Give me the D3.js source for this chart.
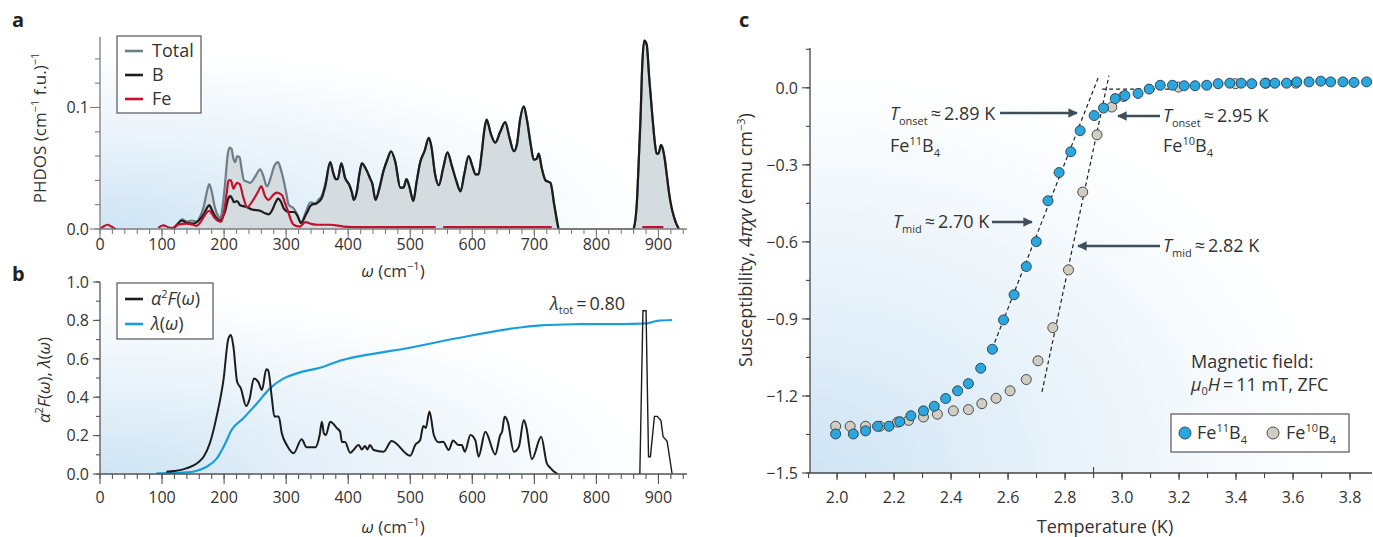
<!DOCTYPE html>
<html><head><meta charset="utf-8">
<script src="https://cdn.jsdelivr.net/npm/d3@7"></script>
<style>body{margin:0;background:#fff}svg{font-family:'Open Sans',sans-serif}</style>
</head><body>
<svg width="1373" height="537"></svg>
<script>
// ---------- DATA ----------
const phdosTotal = [[118,0],[125,0.004],[132,0.008],[140,0.006],[148,0.007],[156,0.006],[162,0.011],[167,0.018],[172,0.030],[176,0.037],[180,0.031],[185,0.018],[190,0.011],[194,0.009],[198,0.02],[202,0.040],[206,0.062],[209,0.067],[212,0.066],[215,0.058],[218,0.055],[221,0.060],[225,0.059],[228,0.050],[232,0.040],[237,0.039],[242,0.038],[250,0.043],[258,0.049],[263,0.044],[269,0.035],[275,0.042],[281,0.052],[287,0.055],[292,0.048],[296,0.040],[300,0.030],[304,0.020],[312,0.017],[317,0.013],[324,0.005],[331,0.013],[339,0.022],[347,0.021],[352,0.024],[357,0.027],[363,0.037],[371,0.055],[376,0.046],[380,0.041],[383,0.041],[389,0.054],[395,0.042],[402,0.036],[406,0.030],[409,0.024],[414,0.031],[418,0.045],[422,0.054],[428,0.050],[435,0.042],[439,0.037],[444,0.024],[450,0.033],[457,0.048],[463,0.057],[469,0.064],[476,0.055],[484,0.034],[489,0.034],[494,0.041],[499,0.034],[505,0.023],[510,0.038],[516,0.055],[523,0.064],[530,0.075],[534,0.068],[540,0.045],[546,0.036],[553,0.050],[560,0.063],[567,0.052],[574,0.040],[581,0.031],[587,0.045],[594,0.060],[600,0.052],[605,0.045],[610,0.045],[615,0.062],[619,0.080],[623,0.090],[630,0.078],[637,0.071],[645,0.080],[653,0.088],[660,0.075],[667,0.064],[672,0.070],[677,0.090],[683,0.101],[688,0.090],[694,0.070],[699,0.057],[704,0.058],[707,0.062],[712,0.050],[718,0.040],[722,0.039],[726,0.038],[732,0.020],[739,0],[800,0],[860,0],[865,0.02],[868,0.053],[871,0.09],[874,0.136],[877,0.155],[881,0.152],[885,0.125],[890,0.094],[894,0.072],[897,0.062],[900,0.062],[904,0.069],[907,0.066],[910,0.058],[914,0.042],[917,0.030],[921,0.018],[925,0.010],[929,0.004],[933,0]];
const phdosB = [[118,0],[125,0.004],[132,0.007],[140,0.005],[151,0.0045],[159,0.007],[167,0.012],[172,0.017],[176,0.0197],[180,0.016],[185,0.011],[194,0.007],[198,0.010],[202,0.015],[206,0.024],[210,0.027],[213,0.025],[216,0.022],[221,0.023],[226,0.0195],[237,0.018],[245,0.016],[258,0.015],[266,0.013],[272,0.012],[278,0.016],[283,0.022],[287,0.025],[292,0.022],[296,0.017],[304,0.014],[313,0.014],[318,0.011],[324,0.005],[333,0.013],[341,0.020],[349,0.021],[357,0.025],[363,0.035],[371,0.055],[376,0.046],[380,0.041],[383,0.041],[389,0.054],[395,0.042],[402,0.036],[406,0.030],[409,0.024],[414,0.031],[418,0.045],[422,0.054],[428,0.050],[435,0.042],[439,0.037],[444,0.024],[450,0.033],[457,0.048],[463,0.057],[469,0.064],[476,0.055],[484,0.034],[489,0.034],[494,0.041],[499,0.034],[505,0.023],[510,0.038],[516,0.055],[523,0.064],[530,0.075],[534,0.068],[540,0.045],[546,0.036],[553,0.050],[560,0.063],[567,0.052],[574,0.040],[581,0.031],[587,0.045],[594,0.060],[600,0.052],[605,0.045],[610,0.045],[615,0.062],[619,0.080],[623,0.090],[630,0.078],[637,0.071],[645,0.080],[653,0.088],[660,0.075],[667,0.064],[672,0.070],[677,0.090],[683,0.101],[688,0.090],[694,0.070],[699,0.057],[704,0.058],[707,0.062],[712,0.050],[718,0.040],[722,0.039],[726,0.038],[732,0.020],[739,0],[800,null],[860,0],[865,0.02],[868,0.053],[871,0.09],[874,0.136],[877,0.155],[881,0.152],[885,0.125],[890,0.094],[894,0.072],[897,0.062],[900,0.062],[904,0.069],[907,0.066],[910,0.058],[914,0.042],[917,0.030],[921,0.018],[925,0.010],[929,0.004],[933,0]];
const phdosFe = [[0,0],[5,0.0018],[12,0.0035],[19,0.0018],[25,0],[40,null],[94,0.001],[102,0.003],[110,0.0015],[115,0.0008],[126,0.0035],[140,0.0045],[150,0.0035],[156,0.0025],[161,0.005],[166,0.009],[171,0.013],[176,0.015],[181,0.012],[185,0.009],[195,0.006],[199,0.012],[202,0.021],[205,0.033],[207,0.040],[211,0.040],[215,0.033],[218,0.036],[221,0.038],[225,0.037],[231,0.026],[237,0.018],[247,0.024],[254,0.030],[260,0.035],[266,0.027],[272,0.024],[279,0.028],[285,0.030],[293,0.028],[299,0.020],[304,0.013],[308,0.007],[312,0.0035],[322,0.002],[331,0.0057],[340,0.0042],[350,0.0035],[371,0.0035],[393,0.002],[420,0.0015],[541,0.0015],[547,null],[553,0.0015],[728,0.0015],[800,null],[874,0.0015],[908,0.0015]];

const a2F = [[107,0.012],[120,0.016],[134,0.024],[150,0.043],[160,0.065],[167,0.09],[177,0.16],[188,0.30],[199,0.49],[207,0.707],[211,0.724],[215,0.663],[221,0.48],[227,0.446],[235.5,0.354],[241,0.39],[248,0.498],[255,0.48],[261,0.4375],[268,0.545],[271,0.54],[277,0.394],[281,0.30],[288,0.30],[293,0.212],[301,0.151],[312,0.108],[325,0.181],[333,0.139],[347,0.139],[354,0.203],[357.5,0.272],[361,0.21],[364,0.203],[371,0.272],[382,0.238],[387,0.22],[390,0.167],[395,0.167],[403,0.111],[417,0.151],[422,0.128],[427,0.146],[431,0.128],[435,0.151],[441,0.125],[457,0.116],[470,0.172],[500,0.095],[508,0.151],[516,0.177],[521,0.25],[525,0.24],[531,0.325],[538,0.203],[546,0.165],[553,0.168],[562,0.125],[569,0.174],[578,0.151],[583,0.151],[588,0.116],[597,0.203],[605,0.174],[610,0.09],[621,0.22],[637,0.102],[645,0.203],[648,0.22],[652,0.298],[657,0.273],[667,0.116],[675,0.142],[683,0.281],[687,0.245],[696,0.077],[711,0.194],[720,0.056],[726,0.031],[735,0.005],[738,0]];
const a2FHigh = [[870,0],[875,0.85],[880,0.85],[884,0.09],[887,0.09],[893.5,0.30],[898,0.30],[904,0.278],[907.5,0.194],[914,0.17],[922,0]];
const lambdaW = [[91,0.003],[134,0.007],[156,0.017],[172,0.038],[188,0.08],[202,0.16],[212,0.229],[231,0.29],[253,0.368],[274,0.446],[296,0.498],[317,0.524],[360,0.559],[382,0.585],[414,0.611],[452,0.632],[495,0.655],[575,0.707],[667,0.759],[710,0.774],[763,0.78],[828,0.781],[882,0.785],[898,0.798],[922,0.802]];

const fe11B4 = [[1.995,-1.348],[2.057,-1.348],[2.10,-1.336],[2.142,-1.318],[2.182,-1.318],[2.22,-1.30],[2.259,-1.277],[2.303,-1.258],[2.341,-1.24],[2.381,-1.21],[2.423,-1.18],[2.461,-1.152],[2.504,-1.092],[2.545,-1.018],[2.584,-0.904],[2.621,-0.806],[2.664,-0.696],[2.699,-0.599],[2.74,-0.44],[2.779,-0.33],[2.82,-0.249],[2.853,-0.167],[2.902,-0.108],[2.935,-0.079],[2.976,-0.042],[3.01,-0.03],[3.056,-0.022],[3.095,-0.005],[3.134,0.01],[3.177,0.01],[3.218,0.008],[3.256,0.008],[3.297,0.01],[3.337,0.016],[3.378,0.018],[3.418,0.018],[3.455,0.016],[3.502,0.018],[3.536,0.018],[3.577,0.018],[3.613,0.023],[3.656,0.023],[3.697,0.026],[3.732,0.023],[3.775,0.023],[3.814,0.021],[3.858,0.023]];
const fe10B4 = [[1.995,-1.318],[2.046,-1.318],[2.10,-1.318],[2.15,-1.318],[2.212,-1.302],[2.251,-1.295],[2.303,-1.282],[2.352,-1.271],[2.408,-1.258],[2.461,-1.253],[2.508,-1.23],[2.558,-1.209],[2.607,-1.18],[2.664,-1.136],[2.705,-1.063],[2.757,-0.934],[2.812,-0.709],[2.862,-0.406],[2.912,-0.183],[2.964,-0.075],[3.005,-0.034],[3.198,0.003],[3.398,0.016],[3.505,0.018],[3.61,0.018]];
const fitFe11 = [[2.544,-1.017],[2.919,0.047]];
const fitFe10 = [[2.719,-1.184],[2.954,0.047]];
const fitBase = [[2.93,-0.005],[3.22,-0.005]];

const wTickLabels = [0,100,200,300,400,500,600,700,800,900];
const phdosTickLabels = [0,0.1];
const a2FTickLabels = [0,0.2,0.4,0.6,0.8,1.0];
const tTickLabels = [2.0,2.2,2.4,2.6,2.8,3.0,3.2,3.4,3.6,3.8];
const chiTickLabels = [0,-0.3,-0.6,-0.9,-1.2,-1.5];

// ---------- SCALES ----------
const svg = d3.select('svg');
const xA = d3.scaleLinear([0,946],[100,687]);
const yA = d3.scaleLinear([0,0.158],[229,37]);
const xB = d3.scaleLinear([0,946],[100,687]);
const yB = d3.scaleLinear([0,1],[474,282]);
const xC = d3.scaleLinear([1.905,3.877],[810,1372]);
const yC = d3.scaleLinear([-1.5,0.155],[473,48]);

const defs = svg.append('defs');
function grad(id){
  const g = defs.append('radialGradient').attr('id',id).attr('cx',0).attr('cy',1).attr('fx',0).attr('fy',1).attr('r',1.05);
  g.append('stop').attr('offset',0).attr('stop-color','#cfe4f4');
  g.append('stop').attr('offset',0.45).attr('stop-color','#e9f3fa');
  g.append('stop').attr('offset',0.9).attr('stop-color','#ffffff');
}
grad('gA'); grad('gB'); grad('gC');
function bg(x,y,id){
  svg.append('rect').attr('x',x.range()[0]).attr('y',y.range()[1]).attr('width',x.range()[1]-x.range()[0]).attr('height',y.range()[0]-y.range()[1]).attr('fill',`url(#${id})`);
}
bg(xA,yA,'gA'); bg(xB,yB,'gB'); bg(xC,yC,'gC');

const TXT = '#333';
function xAxis(x,y0,minor,major,minLen,majLen,fmt,labY,col,fs){
  const g = svg.append('g');
  g.append('line').attr('x1',x.range()[0]).attr('x2',x.range()[1]).attr('y1',y0).attr('y2',y0).attr('stroke',col).attr('stroke-width',1.3);
  minor.forEach(v=>g.append('line').attr('x1',x(v)).attr('x2',x(v)).attr('y1',y0).attr('y2',y0+minLen).attr('stroke',col).attr('stroke-width',1.1));
  major.forEach(v=>{
    g.append('line').attr('x1',x(v)).attr('x2',x(v)).attr('y1',y0).attr('y2',y0+majLen).attr('stroke',col).attr('stroke-width',1.1);
    g.append('text').attr('x',x(v)).attr('y',labY).attr('text-anchor','middle').attr('font-size',fs).attr('fill',TXT).text(fmt(v));
  });
}
function yAxis(y,x0,minor,major,minLen,majLen,fmt,labX,col,fs){
  const g = svg.append('g');
  g.append('line').attr('x1',x0).attr('x2',x0).attr('y1',y.range()[0]).attr('y2',y.range()[1]).attr('stroke',col).attr('stroke-width',1.3);
  minor.forEach(v=>g.append('line').attr('x1',x0-minLen).attr('x2',x0).attr('y1',y(v)).attr('y2',y(v)).attr('stroke',col).attr('stroke-width',1.1));
  major.forEach(v=>{
    g.append('line').attr('x1',x0-majLen).attr('x2',x0).attr('y1',y(v)).attr('y2',y(v)).attr('stroke',col).attr('stroke-width',1.1);
    g.append('text').attr('x',labX).attr('y',y(v)).attr('dy','0.36em').attr('text-anchor','end').attr('font-size',fs).attr('fill',TXT).text(fmt(v));
  });
}
const minus = s => s.replace('-','\u2212');

// ---------- PANEL A ----------
const lineA = d3.line().defined(d=>d[1]!=null).x(d=>xA(d[0])).y(d=>yA(d[1])).curve(d3.curveMonotoneX);
const areaA = d3.area().x(d=>xA(d[0])).y0(yA(0)).y1(d=>yA(d[1])).curve(d3.curveMonotoneX);
svg.append('path').attr('d',areaA(phdosTotal)).attr('fill','#d5dcdf');
svg.append('path').attr('d',lineA(phdosTotal)).attr('fill','none').attr('stroke','#6c7e89').attr('stroke-width',2.2);
svg.append('path').attr('d',lineA(phdosB)).attr('fill','none').attr('stroke','#1c1c1c').attr('stroke-width',2.2);
svg.append('path').attr('d',lineA(phdosFe)).attr('fill','none').attr('stroke','#c0122f').attr('stroke-width',2.2);
xAxis(xA,229,d3.range(0,941,20),wTickLabels,5,10,d=>d,250,'#7d7d7d',16);
yAxis(yA,100,d3.range(0,0.1585,0.02),phdosTickLabels,5,10,d=>d.toFixed(1),89,'#7d7d7d',16);

// legend A
svg.append('rect').attr('x',117).attr('y',36).attr('width',84).attr('height',77).attr('fill','#fff').attr('stroke','#555').attr('stroke-width',1.2);
[['Total','#6c7e89',51],['B','#1c1c1c',75],['Fe','#c0122f',99]].forEach(([t,c,y])=>{
  svg.append('line').attr('x1',125).attr('x2',143).attr('y1',y).attr('y2',y).attr('stroke',c).attr('stroke-width',2.6);
  svg.append('text').attr('x',152).attr('y',y).attr('dy','0.36em').attr('font-size',18).attr('fill',TXT).text(t);
});
// axis titles A
{
  const t = svg.append('text').attr('transform','translate(46,128) rotate(-90)').attr('text-anchor','middle').attr('font-size',17).attr('fill',TXT);
  t.append('tspan').text('PHDOS (cm');
  t.append('tspan').attr('font-size',11).attr('dy',-7).text('\u22121');
  t.append('tspan').attr('dy',7).text(' f.u.)');
  t.append('tspan').attr('font-size',11).attr('dy',-7).text('\u22121');
  const u = svg.append('text').attr('x',393).attr('y',277).attr('text-anchor','middle').attr('font-size',17).attr('fill',TXT);
  u.append('tspan').attr('font-style','italic').text('\u03c9');
  u.append('tspan').text(' (cm');
  u.append('tspan').attr('font-size',11).attr('dy',-7).text('\u22121');
  u.append('tspan').attr('dy',7).text(')');
}
svg.append('text').attr('x',12).attr('y',27).attr('font-size',20).attr('font-weight','bold').attr('fill','#222').text('a');

// ---------- PANEL B ----------
const lineB = d3.line().x(d=>xB(d[0])).y(d=>yB(d[1])).curve(d3.curveMonotoneX);
svg.append('path').attr('d',lineB(lambdaW)).attr('fill','none').attr('stroke','#1a9ddb').attr('stroke-width',2.2);
svg.append('path').attr('d',lineB(a2F)).attr('fill','none').attr('stroke','#1c1c1c').attr('stroke-width',2);
svg.append('path').attr('d',d3.line().x(d=>xB(d[0])).y(d=>yB(d[1]))(a2FHigh)).attr('fill','none').attr('stroke','#1c1c1c').attr('stroke-width',1.4);
xAxis(xB,474,d3.range(0,941,20),wTickLabels,5,10,d=>d,503,'#555',16);
yAxis(yB,100,d3.range(0,1.001,0.1),a2FTickLabels,4,7,d=>d.toFixed(1),89,'#555',16);
svg.append('rect').attr('x',117).attr('y',283).attr('width',96).attr('height',56).attr('fill','#fff').attr('stroke','#555').attr('stroke-width',1.2);
{
  svg.append('line').attr('x1',125).attr('x2',143).attr('y1',299).attr('y2',299).attr('stroke','#1c1c1c').attr('stroke-width',2.6);
  svg.append('line').attr('x1',125).attr('x2',143).attr('y1',324).attr('y2',324).attr('stroke','#1a9ddb').attr('stroke-width',2.6);
  const t1 = svg.append('text').attr('x',151).attr('y',305).attr('font-size',18).attr('fill',TXT);
  t1.append('tspan').attr('font-style','italic').text('\u03b1');
  t1.append('tspan').attr('font-size',11).attr('dy',-7).text('2');
  t1.append('tspan').attr('dy',7).attr('font-style','italic').text('F');
  t1.append('tspan').text('(');
  t1.append('tspan').attr('font-style','italic').text('\u03c9');
  t1.append('tspan').text(')');
  const t2 = svg.append('text').attr('x',151).attr('y',330).attr('font-size',18).attr('fill',TXT);
  t2.append('tspan').attr('font-style','italic').text('\u03bb');
  t2.append('tspan').text('(');
  t2.append('tspan').attr('font-style','italic').text('\u03c9');
  t2.append('tspan').text(')');
  const t3 = svg.append('text').attr('x',550).attr('y',310).attr('font-size',18).attr('fill',TXT);
  t3.append('tspan').attr('font-style','italic').text('\u03bb');
  t3.append('tspan').attr('font-size',11).attr('dy',4).text('tot');
  t3.append('tspan').attr('dy',-4).text('\u2009=\u20090.80');
  const yt = svg.append('text').attr('transform','translate(50,380) rotate(-90)').attr('text-anchor','middle').attr('font-size',17).attr('fill',TXT);
  yt.append('tspan').attr('font-style','italic').text('\u03b1');
  yt.append('tspan').attr('font-size',11).attr('dy',-7).text('2');
  yt.append('tspan').attr('dy',7).attr('font-style','italic').text('F');
  yt.append('tspan').text('(');
  yt.append('tspan').attr('font-style','italic').text('\u03c9');
  yt.append('tspan').text('), ');
  yt.append('tspan').attr('font-style','italic').text('\u03bb');
  yt.append('tspan').text('(');
  yt.append('tspan').attr('font-style','italic').text('\u03c9');
  yt.append('tspan').text(')');
  const u = svg.append('text').attr('x',393).attr('y',533).attr('text-anchor','middle').attr('font-size',17).attr('fill',TXT);
  u.append('tspan').attr('font-style','italic').text('\u03c9');
  u.append('tspan').text(' (cm');
  u.append('tspan').attr('font-size',11).attr('dy',-7).text('\u22121');
  u.append('tspan').attr('dy',7).text(')');
}
svg.append('text').attr('x',12).attr('y',281).attr('font-size',20).attr('font-weight','bold').attr('fill','#222').text('b');

// ---------- PANEL C ----------
const lineC = d3.line().x(d=>xC(d[0])).y(d=>yC(d[1]));
[fitFe11,fitFe10,fitBase].forEach(f=>svg.append('path').attr('d',lineC(f)).attr('fill','none').attr('stroke','#222').attr('stroke-width',1.2).attr('stroke-dasharray','4,3'));
svg.append('g').selectAll('circle').data(fe10B4).join('circle').attr('cx',d=>xC(d[0])).attr('cy',d=>yC(d[1])).attr('r',5).attr('fill','#d0cec2').attr('stroke','#3a3a3a').attr('stroke-width',0.9);
svg.append('g').selectAll('circle').data(fe11B4).join('circle').attr('cx',d=>xC(d[0])).attr('cy',d=>yC(d[1])).attr('r',5).attr('fill','#2aa7df').attr('stroke','#2a3a44').attr('stroke-width',0.9);
xAxis(xC,473,d3.range(1.9,3.88,0.1).map(v=>+v.toFixed(1)),tTickLabels,5,7,d=>d.toFixed(1),503,'#444',16);
svg.append('line').attr('x1',xC(2.9)).attr('x2',xC(2.9)).attr('y1',473).attr('y2',467).attr('stroke','#444').attr('stroke-width',1.1);
yAxis(yC,810,d3.range(-1.5,0.16,0.15).map(v=>+v.toFixed(2)),chiTickLabels,4,8,d=>minus(d.toFixed(1)),798,'#444',16);
svg.append('text').attr('x',739).attr('y',27).attr('font-size',20).attr('font-weight','bold').attr('fill','#222').text('c');
{
  const yt = svg.append('text').attr('transform','translate(752,240) rotate(-90)').attr('text-anchor','middle').attr('font-size',18).attr('fill',TXT);
  yt.append('tspan').text('Susceptibility, 4');
  yt.append('tspan').attr('font-style','italic').text('\u03c0\u03c7v');
  yt.append('tspan').text(' (emu cm');
  yt.append('tspan').attr('font-size',11).attr('dy',-7).text('\u22123');
  yt.append('tspan').attr('dy',7).text(')');
  svg.append('text').attr('x',1105).attr('y',533).attr('text-anchor','middle').attr('font-size',18).attr('fill',TXT).text('Temperature (K)');
}
// annotations
const ARC = '#3e4f5b';
defs.append('marker').attr('id','ah').attr('viewBox','0 0 10 10').attr('refX',9).attr('refY',5).attr('markerWidth',4.4).attr('markerHeight',4).attr('orient','auto-start-reverse')
  .append('path').attr('d','M0,0 L10,5 L0,10 Z').attr('fill',ARC);
function arrow(x1,x2,y){ svg.append('line').attr('x1',x1).attr('x2',x2).attr('y1',y).attr('y2',y).attr('stroke',ARC).attr('stroke-width',2.4).attr('marker-end','url(#ah)'); }
function tlabel(x,y,sub,val){
  const t = svg.append('text').attr('x',x).attr('y',y).attr('font-size',18).attr('fill',TXT);
  t.append('tspan').attr('font-style','italic').text('T');
  t.append('tspan').attr('font-size',11).attr('dy',5).text(sub);
  t.append('tspan').attr('dy',-5).text('\u2009\u2248\u2009' + val);
}
function feLabel(x,y,iso,fs){
  const t = svg.append('text').attr('x',x).attr('y',y).attr('font-size',fs||18).attr('fill',TXT);
  t.append('tspan').text('Fe');
  t.append('tspan').attr('font-size',11).attr('dy',-7).text(iso);
  t.append('tspan').attr('dy',7).text('B');
  t.append('tspan').attr('font-size',11).attr('dy',5).text('4');
  return t;
}
tlabel(890,120,'onset','2.89 K'); arrow(1000,1077,113);
feLabel(890,152,'11');
tlabel(893,228,'mid','2.70 K'); arrow(992,1032,222);
tlabel(1163,122,'onset','2.95 K'); arrow(1160,1118,116);
feLabel(1163,152,'10');
tlabel(1163,252,'mid','2.82 K'); arrow(1160,1078,246);
svg.append('text').attr('x',1191).attr('y',368).attr('font-size',18).attr('fill',TXT).text('Magnetic field:');
{
  const t = svg.append('text').attr('x',1191).attr('y',391).attr('font-size',18).attr('fill',TXT);
  t.append('tspan').attr('font-style','italic').text('\u03bc');
  t.append('tspan').attr('font-size',11).attr('dy',4).text('0');
  t.append('tspan').attr('dy',-4).attr('font-style','italic').text('H');
  t.append('tspan').text('\u2009=\u200911 mT, ZFC');
}
svg.append('rect').attr('x',1171).attr('y',414).attr('width',178).attr('height',38).attr('fill','#fff').attr('stroke','#555').attr('stroke-width',1.2);
svg.append('circle').attr('cx',1185).attr('cy',433).attr('r',6).attr('fill','#2aa7df').attr('stroke','#2a3a44').attr('stroke-width',0.9);
svg.append('circle').attr('cx',1273).attr('cy',433).attr('r',6).attr('fill','#d0cec2').attr('stroke','#3a3a3a').attr('stroke-width',0.9);
feLabel(1197,439,'11');
feLabel(1286,439,'10');
</script>
</body></html>
